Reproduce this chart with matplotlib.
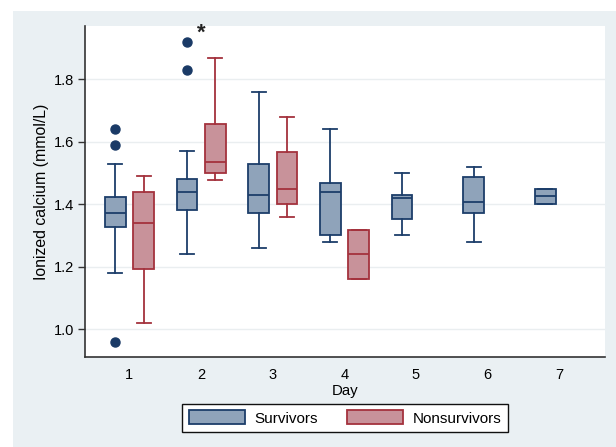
import numpy as np
import matplotlib.pyplot as plt
from matplotlib.patches import Patch, Rectangle

plt.rcParams['font.family'] = ['Liberation Sans', 'DejaVu Sans']

# box stats (mmol/L)
days = [1, 2, 3, 4, 5, 6, 7]
surv_q1 = [1.328, 1.381, 1.373, 1.302, 1.353, 1.371, 1.402]
surv_med = [1.371, 1.440, 1.430, 1.439, 1.420, 1.406, 1.426]
surv_q3 = [1.422, 1.482, 1.528, 1.468, 1.428, 1.487, 1.448]
surv_lo = [1.181, 1.240, 1.260, 1.280, 1.300, 1.280, 1.402]
surv_hi = [1.530, 1.570, 1.759, 1.640, 1.500, 1.520, 1.448]
surv_out = [[1.641, 1.590, 0.958], [1.919, 1.829], [], [], [], [], []]

non_days = [1, 2, 3, 4]
non_q1 = [1.192, 1.501, 1.402, 1.161]
non_med = [1.339, 1.534, 1.450, 1.240]
non_q3 = [1.438, 1.658, 1.567, 1.318]
non_lo = [1.020, 1.479, 1.360, 1.161]
non_hi = [1.490, 1.869, 1.679, 1.318]

def make_stats(q1, med, q3, lo, hi, out=None):
    st = []
    for i in range(len(q1)):
        st.append(dict(q1=q1[i], med=med[i], q3=q3[i], whislo=lo[i], whishi=hi[i],
                       fliers=out[i] if out else []))
    return st

s_col, s_edge = '#8fa3ba', '#1c3e6a'
n_col, n_edge = '#c8929a', '#a4323d'

fig = plt.figure(figsize=(6.16, 4.47), dpi=100)
fig.patches.append(Rectangle((13 / 616, 0), 1, (447 - 11) / 447, transform=fig.transFigure,
                             facecolor='#eaf0f3', edgecolor='none', zorder=-5))
ax = fig.add_axes([85 / 616, 90 / 447, 520 / 616, 331 / 447])
ax.set_zorder(1)

def draw(stats, pos, fc, ec):
    ax.bxp(stats, positions=pos, widths=0.29, capwidths=0.195, patch_artist=True,
           boxprops=dict(facecolor=fc, edgecolor=ec, linewidth=1.3),
           medianprops=dict(color=ec, linewidth=1.3),
           whiskerprops=dict(color=ec, linewidth=1.3),
           capprops=dict(color=ec, linewidth=1.3),
           flierprops=dict(marker='o', markerfacecolor='#1a3a66', markeredgecolor='#1a3a66',
                           markersize=6.5))

draw(make_stats(surv_q1, surv_med, surv_q3, surv_lo, surv_hi, surv_out),
     [d - 0.195 for d in days], s_col, s_edge)
draw(make_stats(non_q1, non_med, non_q3, non_lo, non_hi),
     [d + 0.2 for d in non_days], n_col, n_edge)

ax.text(2, 1.948, '*', ha='center', va='center', fontsize=16, fontweight='bold', color='#222222')

ax.set_xlim(0.382, 7.637)
ax.set_ylim(0.911, 1.9706)
ax.set_xticks(days)
ax.set_xticklabels([str(d) for d in days])
ax.set_yticks([1.0, 1.2, 1.4, 1.6, 1.8])
ax.set_yticklabels(['1.0', '1.2', '1.4', '1.6', '1.8'])
ax.grid(axis='y', color='#eaeef0', linewidth=1)
ax.set_axisbelow(True)
for sp in ['top', 'right']:
    ax.spines[sp].set_visible(False)
for sp in ['left', 'bottom']:
    ax.spines[sp].set_color('#333333')
    ax.spines[sp].set_linewidth(1.2)
ax.tick_params(axis='y', length=5, width=1, color='#333333', labelsize=10.5, pad=3)
ax.tick_params(axis='x', length=0, labelsize=10.5, pad=8)
ax.set_xlabel('Day', fontsize=10.8, labelpad=1)
ax.set_ylabel('Ionized calcium (mmol/L)', fontsize=11.4, labelpad=3)

handles = [Patch(facecolor=s_col, edgecolor=s_edge, linewidth=1.3, label='Survivors'),
           Patch(facecolor=n_col, edgecolor=n_edge, linewidth=1.3, label='Nonsurvivors')]
leg = fig.legend(handles=handles, loc='center', bbox_to_anchor=(345 / 616, 29 / 447), ncol=2,
                 fontsize=11, frameon=True, fancybox=False, handlelength=3.7, handleheight=1.0,
                 columnspacing=1.9, borderpad=0.45, handletextpad=0.6, framealpha=1)
leg.get_frame().set_edgecolor('#111111')
leg.get_frame().set_facecolor('white')
leg.get_frame().set_linewidth(1)

plt.savefig('out.png', dpi=100)
